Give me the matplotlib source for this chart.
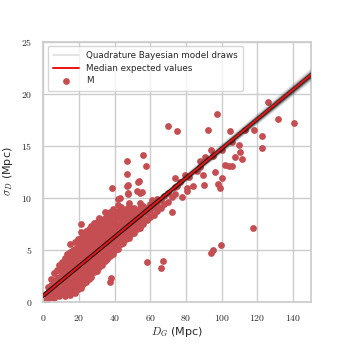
"""
sigma_D vs D_G scatter with quadrature model draws
"""

import numpy as np
import matplotlib
matplotlib.use("Agg")
import matplotlib.pyplot as plt
import seaborn as sns
from matplotlib.ticker import FuncFormatter

# dense cloud, one x column -> list of sigma values
cloud_x = [1.5, 3, 4.5, 6, 7.5, 9, 10.5, 12, 13.5, 15, 16.5, 18, 19.5, 21, 22.5, 24,
           25.5, 27, 28.5, 30, 31.5, 33, 34.5, 36, 37.5, 39, 40.5, 42, 43.5, 45,
           46.5, 48, 49.5, 51, 52.5, 54, 56, 58, 60, 62, 64, 66, 68, 70, 72, 74]
cloud_y = [
    [0.1, 0.7],
    [0.2, 0.8, 1.4],
    [0.4, 1.0, 1.6, 2.2],
    [0.3, 0.9, 1.5, 2.0, 2.7],
    [0.6, 1.1, 1.8, 2.3, 3.0],
    [0.5, 1.2, 1.9, 2.4, 3.0, 3.5],
    [0.8, 1.3, 1.9, 2.6, 3.1, 3.8],
    [0.5, 1.2, 1.7, 2.4, 2.9, 3.6, 4.2],
    [0.9, 1.4, 2.1, 2.6, 3.3, 3.8, 4.6],
    [0.6, 1.1, 1.8, 2.3, 3.0, 3.5, 4.1, 4.8, 5.5],
    [1.0, 1.5, 2.2, 2.7, 3.4, 3.9, 4.5, 5.0],
    [0.8, 1.5, 2.0, 2.7, 3.2, 3.9, 4.4, 5.1, 5.7],
    [1.2, 1.7, 2.4, 2.9, 3.6, 4.1, 4.8, 5.3, 6.0],
    [1.3, 2.0, 2.5, 3.2, 3.7, 4.4, 4.9, 5.6, 6.1, 6.7],
    [1.7, 2.2, 2.9, 3.4, 4.1, 4.6, 5.3, 5.8, 6.4],
    [1.9, 2.6, 3.1, 3.8, 4.3, 5.0, 5.5, 6.2, 6.8],
    [2.2, 2.7, 3.4, 3.9, 4.6, 5.1, 5.8, 6.3, 7.0],
    [2.4, 3.1, 3.6, 4.3, 4.8, 5.5, 6.0, 6.7, 7.3],
    [2.8, 3.3, 4.0, 4.5, 5.2, 5.7, 6.4, 6.9, 7.6],
    [2.9, 3.6, 4.1, 4.8, 5.3, 6.0, 6.5, 7.2, 7.7],
    [3.3, 3.8, 4.5, 5.0, 5.7, 6.2, 6.9, 7.4, 8.0],
    [3.5, 4.2, 4.7, 5.4, 5.9, 6.6, 7.1, 7.8],
    [3.9, 4.4, 5.1, 5.6, 6.3, 6.8, 7.5, 8.0, 8.6],
    [4.1, 4.8, 5.3, 6.0, 6.5, 7.2, 7.7, 8.3],
    [4.4, 4.9, 5.6, 6.1, 6.8, 7.3, 8.0, 8.6],
    [4.6, 5.3, 5.8, 6.5, 7.0, 7.7, 8.2, 8.9],
    [5.0, 5.5, 6.2, 6.7, 7.4, 7.9, 8.6],
    [5.1, 5.8, 6.3, 7.0, 7.5, 8.2, 8.7, 9.3],
    [5.5, 6.0, 6.7, 7.2, 7.9, 8.4, 9.1],
    [5.6, 6.3, 6.8, 7.5, 8.0, 8.7],
    [6.0, 6.5, 7.2, 7.7, 8.4, 8.9],
    [6.1, 6.8, 7.3, 8.0, 8.5, 9.2],
    [6.5, 7.0, 7.7, 8.2, 8.9],
    [6.6, 7.3, 7.8, 8.5, 9.0],
    [7.0, 7.5, 8.2, 8.7],
    [7.1, 7.8, 8.3, 9.0, 9.5],
    [7.5, 8.0, 8.7, 9.2],
    [7.8, 8.5, 9.0],
    [8.1, 8.7, 9.4],
    [8.3, 9.1],
    [8.7, 9.3, 9.9],
    [9.0, 9.8],
    [9.4],
    [9.6, 10.4],
    [10.1],
    [10.3, 11.0],
]

# scattered points away from the cloud
out_x = [70.2, 74.8, 97.6, 92.2, 104.7, 126.2, 131.4, 140.7, 118.3, 122.4, 122.4,
         109.7, 110.3, 111.2, 105.6, 107.5, 117.8, 99.7, 95.4, 94.1, 90.1, 99.1, 98.0,
         56.2, 47.2, 57.5, 47.2, 53.7, 38.8, 47.5, 52.5, 55.3, 43.1, 47.4, 48.1, 60.9,
         73.9, 80.4, 72.1, 58.1, 67.4, 65.9, 37.9, 37.6, 21.1, 46.8, 42.2, 47.8, 54.3,
         53.3, 94.1, 90.7, 87.9, 89.8, 96.3, 100.0, 83.8, 80.8, 77.6, 79.5, 76.7,
         101.9, 104.3, 62.0, 68.0, 75.0, 82.0, 88.0, 95.0, 100.0, 106.0, 113.0, 86.0]
out_y = [16.9, 16.4, 18.0, 16.5, 16.4, 19.2, 17.6, 17.2, 16.5, 15.9, 14.8,
         15.1, 14.4, 13.7, 13.0, 13.9, 7.06, 5.4, 4.97, 4.7, 11.2, 10.9, 11.3,
         14.1, 13.5, 13.0, 12.3, 11.6, 10.9, 11.2, 10.6, 10.5, 9.94, 10.4, 9.46, 9.78,
         11.9, 10.9, 8.65, 3.85, 3.94, 3.2, 2.25, 1.9, 7.5, 11.1, 9.9, 10.3, 10.4,
         11.5, 14.6, 13.9, 13.5, 12.2, 12.5, 11.9, 11.1, 10.6, 10.1, 12.2, 11.5,
         13.1, 13.0, 9.3, 10.2, 11.1, 12.0, 12.9, 14.0, 14.6, 15.4, 16.5, 12.6]

# posterior draws of the quadrature model (intercept, slope)
draw_b = [0.65, 0.62, 0.60, 0.58, 0.57, 0.56, 0.56, 0.55, 0.55, 0.54, 0.54, 0.53,
          0.52, 0.51, 0.50, 0.48, 0.58, 0.57, 0.53, 0.52, 0.55, 0.56, 0.54, 0.60]
draw_m = [0.1380, 0.1390, 0.1398, 0.1403, 0.1407, 0.1410, 0.1412, 0.1414, 0.1416,
          0.1418, 0.1420, 0.1422, 0.1425, 0.1429, 0.1435, 0.1448, 0.1409, 0.1413,
          0.1419, 0.1423, 0.1417, 0.1415, 0.1421, 0.1400]
med_b = 0.55
med_m = 0.1417

sns.set_theme(style="whitegrid")
plt.rcParams['font.family'] = ['DejaVu Sans']
plt.rcParams['mathtext.fontset'] = 'cm'

xs = []
ys = []
for x, col in zip(cloud_x, cloud_y):
    for y in col:
        xs.append(x)
        ys.append(y)
xs = np.array(xs + out_x)
ys = np.array(ys + out_y)

fig = plt.figure(figsize=(3.45, 3.45), dpi=100)
ax = fig.add_subplot(111)
fig.subplots_adjust(left=0.125, right=0.901, bottom=0.126, top=0.879)

pts = ax.scatter(xs, ys, s=24, color='#c44e52', linewidths=0, label='M', zorder=2)

line_x = np.array([0, 150])
for b, m in zip(draw_b, draw_m):
    ax.plot(line_x, b + m * line_x, color='k', alpha=0.12, lw=2.6, zorder=3)
med, = ax.plot(line_x, med_b + med_m * line_x, color='#ee1111', lw=1.4, zorder=4,
               label='Median expected values')
draw_handle, = ax.plot([], [], color='#dedede', lw=1.2,
                       label='Quadrature Bayesian model draws')

ax.set_xlim(0, 150)
ax.set_ylim(0, 25)
ax.set_xticks(np.arange(0, 141, 20))
ax.set_yticks(np.arange(0, 26, 5))
fmt = FuncFormatter(lambda v, p: '$%g$' % v)
ax.xaxis.set_major_formatter(fmt)
ax.yaxis.set_major_formatter(fmt)
ax.tick_params(labelsize=7, pad=2)
ax.set_xlabel(r'$D_G$ (Mpc)', fontsize=8, labelpad=2)
ax.set_ylabel(r'$\sigma_D$ (Mpc)', fontsize=8, labelpad=4)

ax.legend(handles=[draw_handle, med, pts], loc='upper left', fontsize=6.3,
          frameon=True, borderpad=0.6, handlelength=3.0, labelspacing=0.4)

fig.savefig('out.png', dpi=100)
